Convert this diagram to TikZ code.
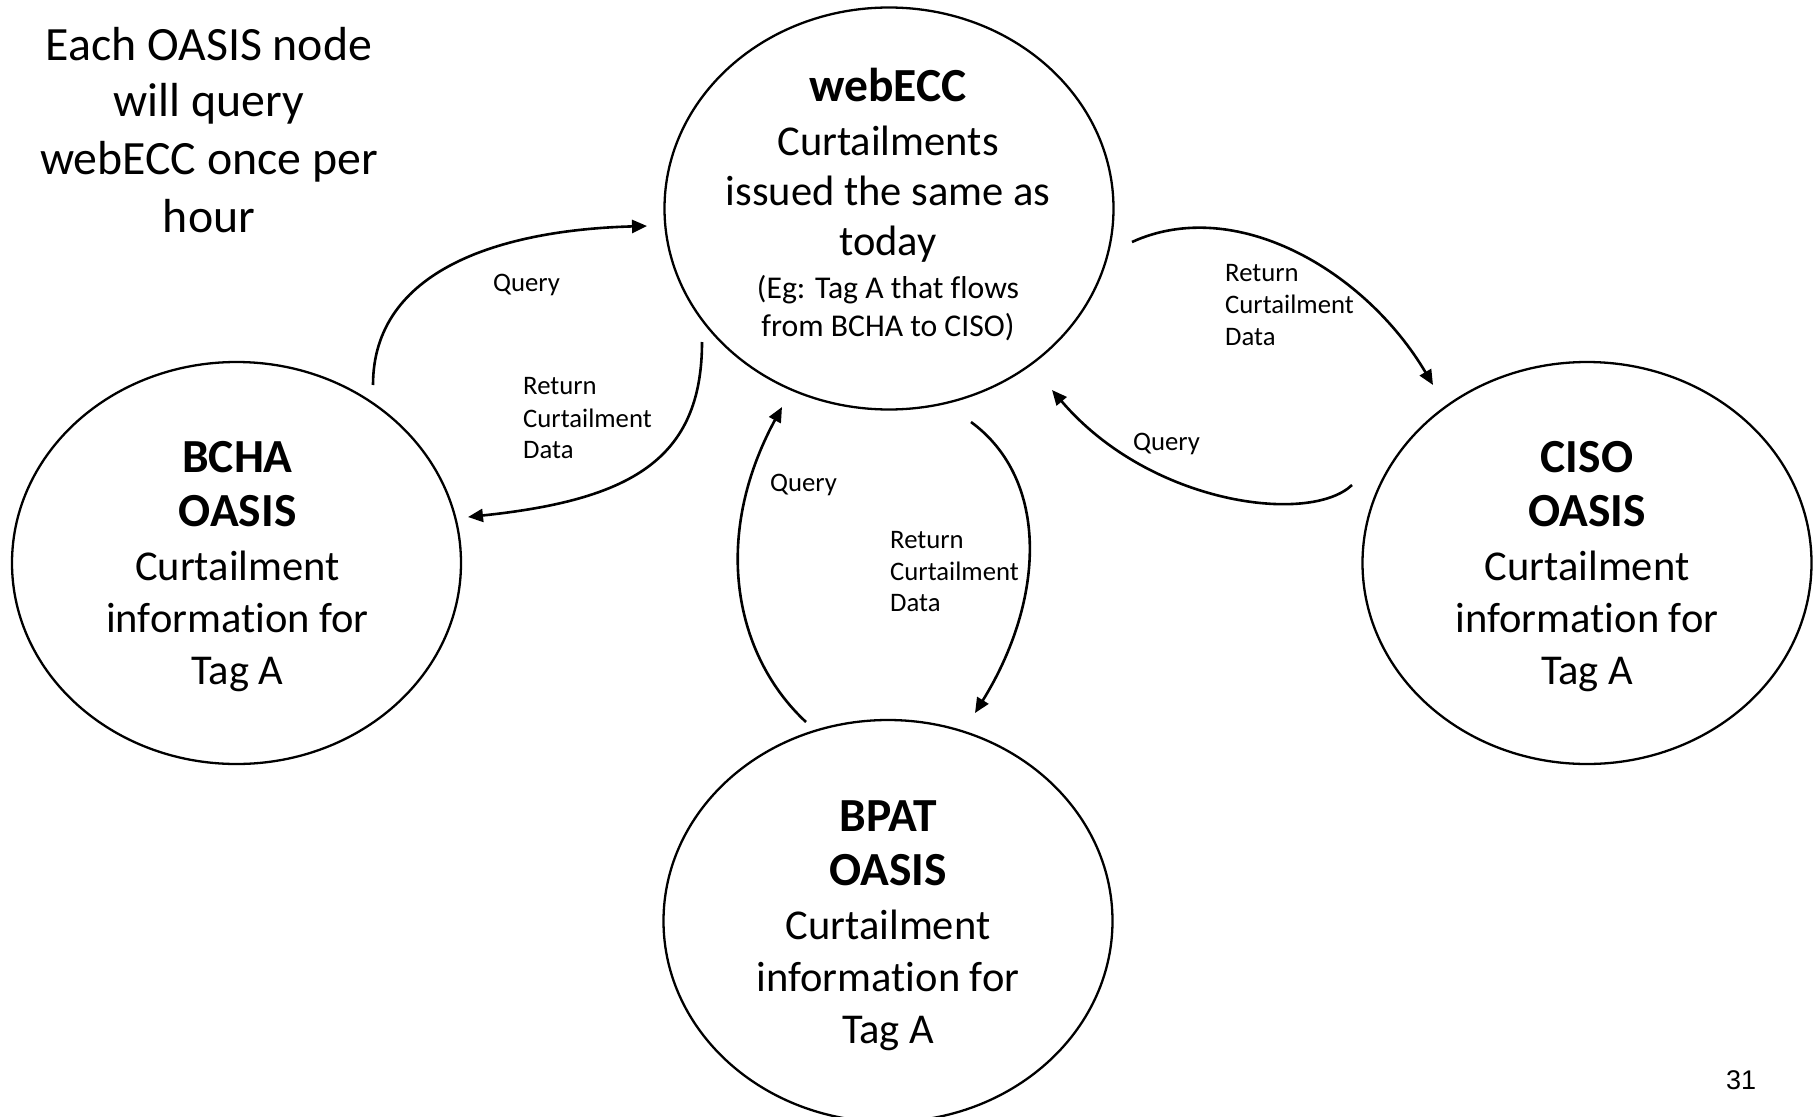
\documentclass[tikz,border=0pt]{standalone}
\usepackage{fontspec}
\setmainfont{Carlito}[Ligatures=NoCommon]
\newfontfamily\arialfont{Liberation Sans}
\usetikzlibrary{arrows.meta,shapes.geometric}
\begin{document}
\begin{tikzpicture}[x=1pt,y=-1pt,
  oval/.style={draw=black, line width=2.3pt, ellipse, minimum width=449pt, minimum height=402pt, inner sep=0pt},
  ln/.style={anchor=base, inner sep=0pt},
  lbl/.style={anchor=base west, inner sep=0pt, font=\fontsize{26.7}{32}\selectfont},
  hd/.style={ln, font=\fontsize{47.5}{56}\selectfont\bfseries},
  bd/.style={ln, font=\fontsize{42.5}{51}\selectfont},
  sm/.style={ln, font=\fontsize{31.7}{38}\selectfont},
  note/.style={ln, font=\fontsize{47.8}{57}\selectfont},
  flow/.style={line width=2.6pt, -{Triangle[length=15pt,width=13pt]}}]
\useasboundingbox (0,0) rectangle (1817,1116);

% ellipses
\node[oval] (webecc) at (889,208.5) {};
\node[oval] (bcha) at (236.5,563) {};
\node[oval] (ciso) at (1587,563) {};
\node[oval] (bpat) at (888,921) {};

% note
\node[note] (n1) at (209,60) {Each OASIS node};
\node[note] (n2) at (209,116) {will query};
\node[note] (n3) at (209,174) {webECC once per};
\node[note] (n4) at (209,232) {hour};

% webECC text
\node[hd] (w1) at (888,101.7) {webECC};
\node[bd] (w2) at (888,155) {Curtailments};
\node[bd] (w3) at (888,205) {issued the same as};
\node[bd] (w4) at (888,255) {today};
\node[sm] (w5) at (888,298) {(Eg: Tag A that flows};
\node[sm] (w6) at (888,336.7) {from BCHA to CISO)};

% BCHA text
\node[hd] (b1) at (237.5,472) {BCHA};
\node[hd] (b2) at (237.5,526) {OASIS};
\node[bd] (b3) at (237.5,580) {Curtailment};
\node[bd] (b4) at (237.5,632) {information for};
\node[bd] (b5) at (237.5,684.5) {Tag A};

% CISO text
\node[hd] (c1) at (1587,472) {CISO};
\node[hd] (c2) at (1587,526) {OASIS};
\node[bd] (c3) at (1587,580) {Curtailment};
\node[bd] (c4) at (1587,632) {information for};
\node[bd] (c5) at (1587,684.5) {Tag A};

% BPAT text
\node[hd] (p1) at (888,831) {BPAT};
\node[hd] (p2) at (888,885) {OASIS};
\node[bd] (p3) at (888,939) {Curtailment};
\node[bd] (p4) at (888,991) {information for};
\node[bd] (p5) at (888,1043.5) {Tag A};

% connector end points
\coordinate (a1s) at (373,385);  \coordinate (a1e) at (647,226);
\coordinate (a2s) at (702,342);  \coordinate (a2e) at (468,517);
\coordinate (a3s) at (806,722);  \coordinate (a3e) at (782,407);
\coordinate (a4s) at (971,422);  \coordinate (a4e) at (975,713);
\coordinate (a5s) at (1132,242); \coordinate (a5e) at (1433,385);
\coordinate (a6s) at (1352,485); \coordinate (a6e) at (1052,390);

\draw[flow] (a1s) .. controls (373,270) and (500,230) .. (a1e);
\draw[flow] (a2s) .. controls (702,460) and (630,500) .. (a2e);
\draw[flow] (a3s) .. controls (736,657) and (710,540) .. (a3e);
\draw[flow] (a4s) .. controls (1050,480) and (1045,600) .. (a4e);
\draw[flow] (a5s) .. controls (1235,195) and (1365,270) .. (a5e);
\draw[flow] (a6s) .. controls (1310,525) and (1150,505) .. (a6e);

% labels
\node[lbl] (q1) at (493,291.7) {Query};
\node[lbl] (r1a) at (523,394) {Return};
\node[lbl] (r1b) at (523,427) {Curtailment};
\node[lbl] (r1c) at (523,458) {Data};
\node[lbl] (q2) at (770,491.7) {Query};
\node[lbl] (r2a) at (890,548.3) {Return};
\node[lbl] (r2b) at (890,580) {Curtailment};
\node[lbl] (r2c) at (890,611.7) {Data};
\node[lbl] (r3a) at (1225,281.7) {Return};
\node[lbl] (r3b) at (1225,313.3) {Curtailment};
\node[lbl] (r3c) at (1225,345) {Data};
\node[lbl] (q3) at (1133,450) {Query};

% page number
\node[ln, font=\arialfont\fontsize{27}{32}\selectfont] (pg) at (1741,1089) {31};
\end{tikzpicture}
\end{document}
